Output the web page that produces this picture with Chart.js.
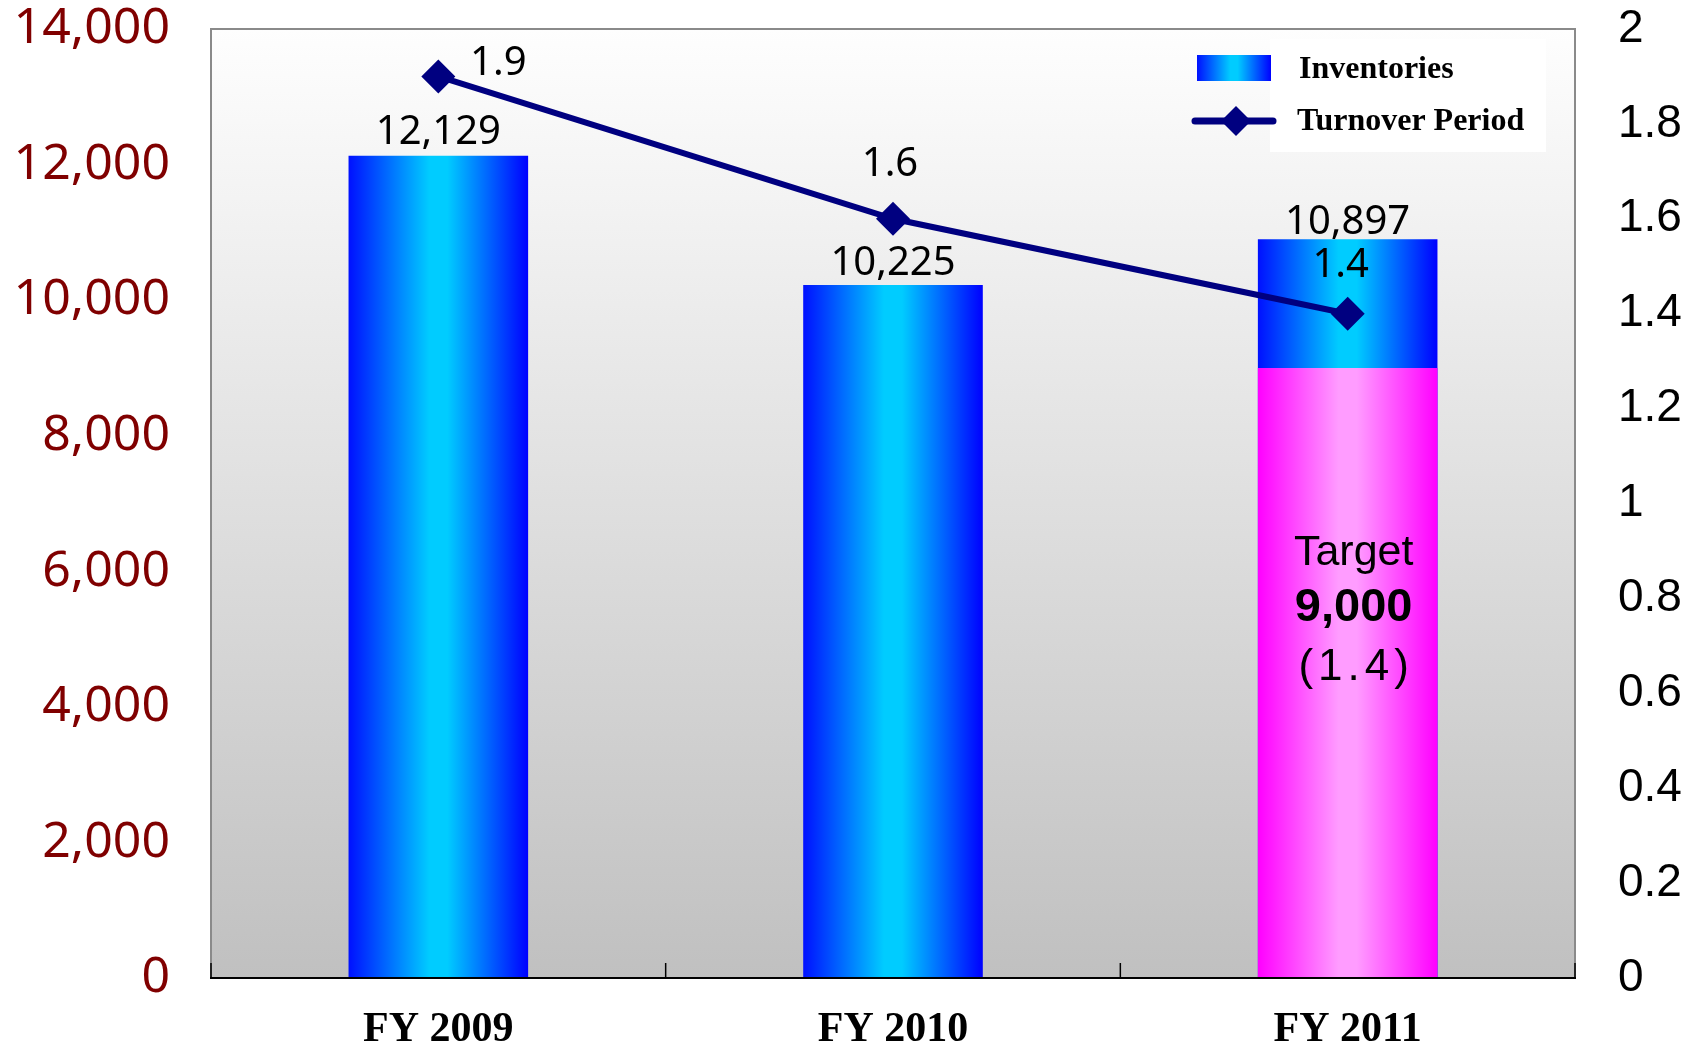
<!DOCTYPE html>
<html>
<head>
<meta charset="utf-8">
<script src="https://cdn.jsdelivr.net/npm/chart.js@4/dist/chart.umd.min.js"></script>
<style>
html, body { margin: 0; padding: 0; background: #fff; }
</style>
</head>
<body>
<canvas id="inventoryChart" width="1695" height="1050"></canvas>
<script>
// chart data
var categories = ["FY 2009", "FY 2010", "FY 2011"];
var inventories = [12129, 10225, 10897];
var targetInventory = [null, null, 9000];
var turnoverPeriod = [1.9, 1.6, 1.4];
var leftTickLabels = ["0", "2,000", "4,000", "6,000", "8,000", "10,000", "12,000", "14,000"];
var rightTickLabels = ["0", "0.2", "0.4", "0.6", "0.8", "1", "1.2", "1.4", "1.6", "1.8", "2"];
var targetText = ["Target", "9,000", "(1.4)"];

function barGradient(ctx, chart, colors) {
    var xs = chart.scales.x;
    if (!xs || !chart.chartArea) return colors[1];
    var i = ctx.dataIndex;
    var cw = chart.chartArea.width / categories.length;
    var c = xs.getPixelForValue(i);
    var w = cw * 0.395;
    var g = chart.ctx.createLinearGradient(c - w / 2, 0, c + w / 2, 0);
    g.addColorStop(0, colors[0]);
    g.addColorStop(0.45, colors[1]);
    g.addColorStop(0.55, colors[1]);
    g.addColorStop(1, colors[2]);
    return g;
}

var blueStops = ['#0010ff', '#00ccff', '#0000ff'];
var pinkStops = ['#ff00ff', '#ff9cff', '#ff00ff'];

// keep the plot area top fixed (tick padding would otherwise push it down)
function fixVertical(width) {
    return function (s) {
        s.width = width;
        s.paddingTop = 29;
        s.paddingBottom = 0;
    };
}

var decorPlugin = {
    id: 'decor',
    beforeDatasetsDraw: function (chart) {
        var a = chart.chartArea, c = chart.ctx;
        c.save();
        var g = c.createLinearGradient(0, a.top, 0, a.bottom);
        g.addColorStop(0, '#fefefe');
        g.addColorStop(1, '#c0c0c0');
        c.fillStyle = g;
        c.fillRect(a.left, a.top, a.right - a.left, a.bottom - a.top);
        // legend box
        c.fillStyle = '#ffffff';
        c.fillRect(a.right - 305, a.top + 10, 276, 113);
        c.restore();
    },
    afterDraw: function (chart) {
        var a = chart.chartArea, c = chart.ctx;
        var xs = chart.scales.x, ys = chart.scales.y, y1 = chart.scales.y1;
        c.save();
        // frame
        c.strokeStyle = '#8a8a8a';
        c.lineWidth = 2;
        c.beginPath();
        c.moveTo(a.left, a.bottom);
        c.lineTo(a.left, a.top);
        c.lineTo(a.right, a.top);
        c.lineTo(a.right, a.bottom);
        c.stroke();
        c.strokeStyle = '#000';
        c.beginPath();
        c.moveTo(a.left - 1, a.bottom);
        c.lineTo(a.right + 1, a.bottom);
        c.stroke();
        // inward tick marks at category boundaries
        var cw = a.width / categories.length;
        c.lineWidth = 1.5;
        for (var k = 0; k <= categories.length; k++) {
            var bx = xs.getPixelForValue(0) - cw / 2 + k * cw;
            c.beginPath();
            c.moveTo(bx, a.bottom);
            c.lineTo(bx, a.bottom - 15);
            c.stroke();
        }

        // value labels on bars
        c.fillStyle = '#000';
        c.textAlign = 'center';
        c.textBaseline = 'middle';
        c.font = '40px "Noto Sans"';
        var barOffsets = [-23, -21, -17];
        inventories.forEach(function (v, i) {
            c.fillText(v.toLocaleString('en-US'), xs.getPixelForValue(i), ys.getPixelForValue(v) + barOffsets[i]);
        });
        // turnover labels
        var lineOffsets = [[60, -13], [-3, -54], [-7, -48]];
        turnoverPeriod.forEach(function (v, i) {
            c.fillText(v.toFixed(1), xs.getPixelForValue(i) + lineOffsets[i][0], y1.getPixelForValue(v) + lineOffsets[i][1]);
        });

        // target text inside pink bar
        var tx = xs.getPixelForValue(2) + 6;
        var ty = ys.getPixelForValue(targetInventory[2]);
        c.font = '43px "Liberation Sans"';
        c.fillText(targetText[0], tx, ty + 185);
        c.font = 'bold 47px "Liberation Sans"';
        c.fillText(targetText[1], tx, ty + 240);
        c.font = '44px "Liberation Sans"';
        c.letterSpacing = '5px';
        var w = c.measureText(targetText[2]).width;
        c.textAlign = 'left';
        c.fillText(targetText[2], tx - (w - 5) / 2, ty + 300);
        c.letterSpacing = '0px';

        // legend
        var lx = a.right - 378;
        var ly = a.top;
        var sg = c.createLinearGradient(lx, 0, lx + 74, 0);
        sg.addColorStop(0, blueStops[0]);
        sg.addColorStop(0.45, blueStops[1]);
        sg.addColorStop(0.55, blueStops[1]);
        sg.addColorStop(1, blueStops[2]);
        c.fillStyle = sg;
        c.fillRect(lx, ly + 26, 74, 26);
        c.strokeStyle = '#000080';
        c.lineWidth = 7;
        c.lineCap = 'round';
        c.beginPath();
        c.moveTo(lx - 2, ly + 92);
        c.lineTo(lx + 76, ly + 92);
        c.stroke();
        c.fillStyle = '#000080';
        c.beginPath();
        c.moveTo(lx + 39, ly + 77);
        c.lineTo(lx + 54, ly + 92);
        c.lineTo(lx + 39, ly + 107);
        c.lineTo(lx + 24, ly + 92);
        c.closePath();
        c.fill();
        c.fillStyle = '#000';
        c.font = 'bold 32px "Liberation Serif"';
        c.textAlign = 'left';
        c.fillText('Inventories', lx + 102, ly + 41);
        c.fillText('Turnover Period', lx + 100, ly + 93);
        c.restore();
    }
};

new Chart(document.getElementById('inventoryChart'), {
    type: 'bar',
    data: {
        labels: categories,
        datasets: [{
            label: 'Turnover Period',
            type: 'line',
            data: turnoverPeriod,
            yAxisID: 'y1',
            order: 0,
            borderColor: '#000080',
            borderWidth: 6,
            pointStyle: 'rectRot',
            pointRadius: 17,
            pointBackgroundColor: '#000080',
            pointBorderWidth: 0,
            tension: 0
        }, {
            label: 'Target',
            data: targetInventory,
            yAxisID: 'y',
            order: 1,
            grouped: false,
            barPercentage: 1,
            categoryPercentage: 0.395,
            backgroundColor: function (ctx) { return barGradient(ctx, ctx.chart, pinkStops); }
        }, {
            label: 'Inventories',
            data: inventories,
            yAxisID: 'y',
            order: 2,
            grouped: false,
            barPercentage: 1,
            categoryPercentage: 0.395,
            backgroundColor: function (ctx) { return barGradient(ctx, ctx.chart, blueStops); }
        }]
    },
    options: {
        responsive: false,
        animation: false,
        devicePixelRatio: 1,
        layout: { autoPadding: false, padding: { top: 29, left: 0, right: 0, bottom: 0 } },
        plugins: {
            legend: { display: false },
            tooltip: { enabled: false }
        },
        scales: {
            x: {
                offset: true,
                grid: { display: false, drawTicks: false },
                border: { display: false },
                ticks: {
                    color: '#000',
                    padding: 27,
                    font: { family: 'Liberation Serif', weight: 'bold', size: 42 }
                },
                afterFit: function (s) { s.height = 72; }
            },
            y: {
                position: 'left',
                min: 0,
                max: 14000,
                grid: { display: false, drawTicks: false },
                border: { display: false },
                ticks: {
                    stepSize: 2000,
                    color: '#800000',
                    padding: 41,
                    font: { family: 'Noto Sans', size: 50 },
                    callback: function (v, i) { return leftTickLabels[i]; }
                },
                afterFit: fixVertical(211)
            },
            y1: {
                position: 'right',
                min: 0,
                max: 2,
                grid: { display: false, drawTicks: false },
                border: { display: false },
                ticks: {
                    stepSize: 0.2,
                    color: '#000',
                    padding: 43,
                    font: { family: 'Liberation Sans', size: 46 },
                    callback: function (v, i) { return rightTickLabels[i]; }
                },
                afterFit: fixVertical(120)
            }
        }
    },
    plugins: [decorPlugin]
});
</script>
</body>
</html>
